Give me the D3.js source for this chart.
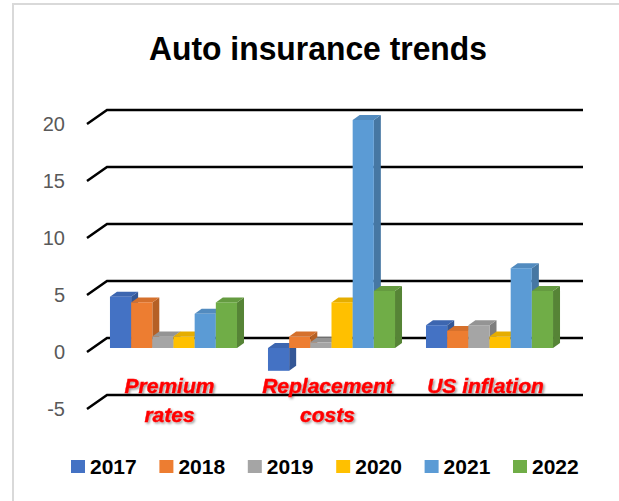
<!DOCTYPE html>
<html>
<head>
<meta charset="utf-8">
<script src="https://cdn.jsdelivr.net/npm/d3@7"></script>
<style>
  body { margin: 0; background: #fff; }
  svg { display: block; font-family: "Liberation Sans", Arial, sans-serif; }
</style>
</head>
<body>
<svg width="619" height="501"></svg>
<script>
// data
const categories = ["Premium rates", "Replacement costs", "US inflation"];
const categoryLines = [["Premium", "rates"], ["Replacement", "costs"], ["US inflation"]];
const years = ["2017", "2018", "2019", "2020", "2021", "2022"];
const v2017 = [4.5, -2, 2];
const v2018 = [4, 1, 1.5];
const v2019 = [1, 0.5, 2];
const v2020 = [1, 4, 1];
const v2021 = [3, 20, 7];
const v2022 = [4, 5, 5];
const seriesValues = [v2017, v2018, v2019, v2020, v2021, v2022];
const yTicks = [-5, 0, 5, 10, 15, 20];
const colors = ["#4472C4", "#ED7D31", "#A5A5A5", "#FFC000", "#5B9BD5", "#70AD47"];

const svg = d3.select("svg");
const width = +svg.attr("width");
const height = +svg.attr("height");

// 3d offsets
const floorDx = 20, floorDy = -14;   // front edge -> back wall
const barDx = 7, barDy = -5;         // bar depth
const barShift = 10;                 // bar front face below back wall

const y = d3.scaleLinear().domain([-5, 20]).range([395, 110]);
const yFront = v => y(v) + barShift;

const x0 = d3.scaleBand().domain(categories).range([79, 584]).padding(0.196);
const x1 = d3.scaleBand().domain(years).range([0, x0.bandwidth()]);

const colorScale = d3.scaleOrdinal().domain(years).range(colors);

// chart border (left + top only)
svg.append("path")
  .attr("d", `M13,${height} L13,4 L${width},4`)
  .attr("fill", "none")
  .attr("stroke", "#d9d9d9")
  .attr("stroke-width", 2);

// title
svg.append("text")
  .attr("x", 318)
  .attr("y", 60)
  .attr("text-anchor", "middle")
  .attr("font-size", 34)
  .attr("font-weight", "bold")
  .attr("textLength", 338)
  .attr("lengthAdjust", "spacingAndGlyphs")
  .attr("fill", "#000")
  .text("Auto insurance trends");

// gridlines on floor edge + back wall
const backX0 = 87 + floorDx, backX1 = 583;
svg.append("g")
  .selectAll("path")
  .data(yTicks)
  .join("path")
    .attr("d", d => `M87,${y(d) - floorDy} L${backX0},${y(d)} L${backX1},${y(d)}`)
    .attr("fill", "none")
    .attr("stroke", "#000")
    .attr("stroke-width", 2.5);

// y axis labels at front ends
const yAxis = svg.append("g")
  .attr("transform", `translate(87,${-floorDy})`)
  .call(d3.axisLeft(y).tickValues(yTicks).tickSize(0).tickPadding(22).tickFormat(d => String(d)));
yAxis.select(".domain").remove();
yAxis.selectAll("text")
  .attr("font-family", "Liberation Sans, Arial, sans-serif")
  .attr("font-size", 20)
  .attr("fill", "#595959");

// bars
const bars = [];
categories.forEach((c, ci) => {
  years.forEach((yr, si) => {
    bars.push({ cat: c, year: yr, value: seriesValues[si][ci] });
  });
});

const bw = x1.bandwidth();
const barG = svg.append("g");

bars.forEach(d => {
  const x = x0(d.cat) + x1(d.year);
  const yTop = yFront(Math.max(0, d.value));
  const yBot = yFront(Math.min(0, d.value));
  const base = d3.color(colorScale(d.year));
  const g = barG.append("g");
  // side
  g.append("path")
    .attr("d", `M${x + bw},${yTop} L${x + bw + barDx},${yTop + barDy} L${x + bw + barDx},${yBot + barDy} L${x + bw},${yBot} Z`)
    .attr("fill", base.darker(0.75));
  // top
  g.append("path")
    .attr("d", `M${x},${yTop} L${x + barDx},${yTop + barDy} L${x + bw + barDx},${yTop + barDy} L${x + bw},${yTop} Z`)
    .attr("fill", base.darker(0.3));
  // front
  g.append("rect")
    .attr("x", x)
    .attr("y", yTop)
    .attr("width", bw)
    .attr("height", Math.max(0, yBot - yTop))
    .attr("fill", base);
});

// category labels
const defs = svg.append("defs");
defs.append("filter")
  .attr("id", "shadow")
  .attr("x", "-10%").attr("y", "-30%").attr("width", "130%").attr("height", "160%")
  .append("feDropShadow")
    .attr("dx", 1.5).attr("dy", 1.5)
    .attr("stdDeviation", 1.3)
    .attr("flood-color", "#000")
    .attr("flood-opacity", 0.4);

const catG = svg.append("g");
categories.forEach((c, ci) => {
  const cx = x0(c) + x0.bandwidth() / 2 - 4;
  const t = catG.append("text")
    .attr("x", cx)
    .attr("y", 393)
    .attr("text-anchor", "middle")
    .attr("font-size", 21)
    .attr("font-weight", "bold")
    .attr("font-style", "italic")
    .attr("fill", "#ff0000")
    .attr("stroke", "#ff0000")
    .attr("stroke-width", 0.4)
    .attr("filter", "url(#shadow)");
  categoryLines[ci].forEach((line, li) => {
    t.append("tspan")
      .attr("x", cx)
      .attr("dy", li === 0 ? 0 : 29)
      .text(line);
  });
});

// legend
const legendX = d3.scaleLinear().domain([0, years.length - 1]).range([71, 513]);
const legend = svg.append("g")
  .selectAll("g")
  .data(years)
  .join("g")
    .attr("transform", (d, i) => `translate(${legendX(i)},460)`);
legend.append("rect")
  .attr("width", 14)
  .attr("height", 13)
  .attr("fill", d => colorScale(d));
legend.append("text")
  .attr("x", 19)
  .attr("y", 13.5)
  .attr("font-size", 21)
  .attr("font-weight", "bold")
  .attr("fill", "#000")
  .text(d => d);
</script>
</body>
</html>
